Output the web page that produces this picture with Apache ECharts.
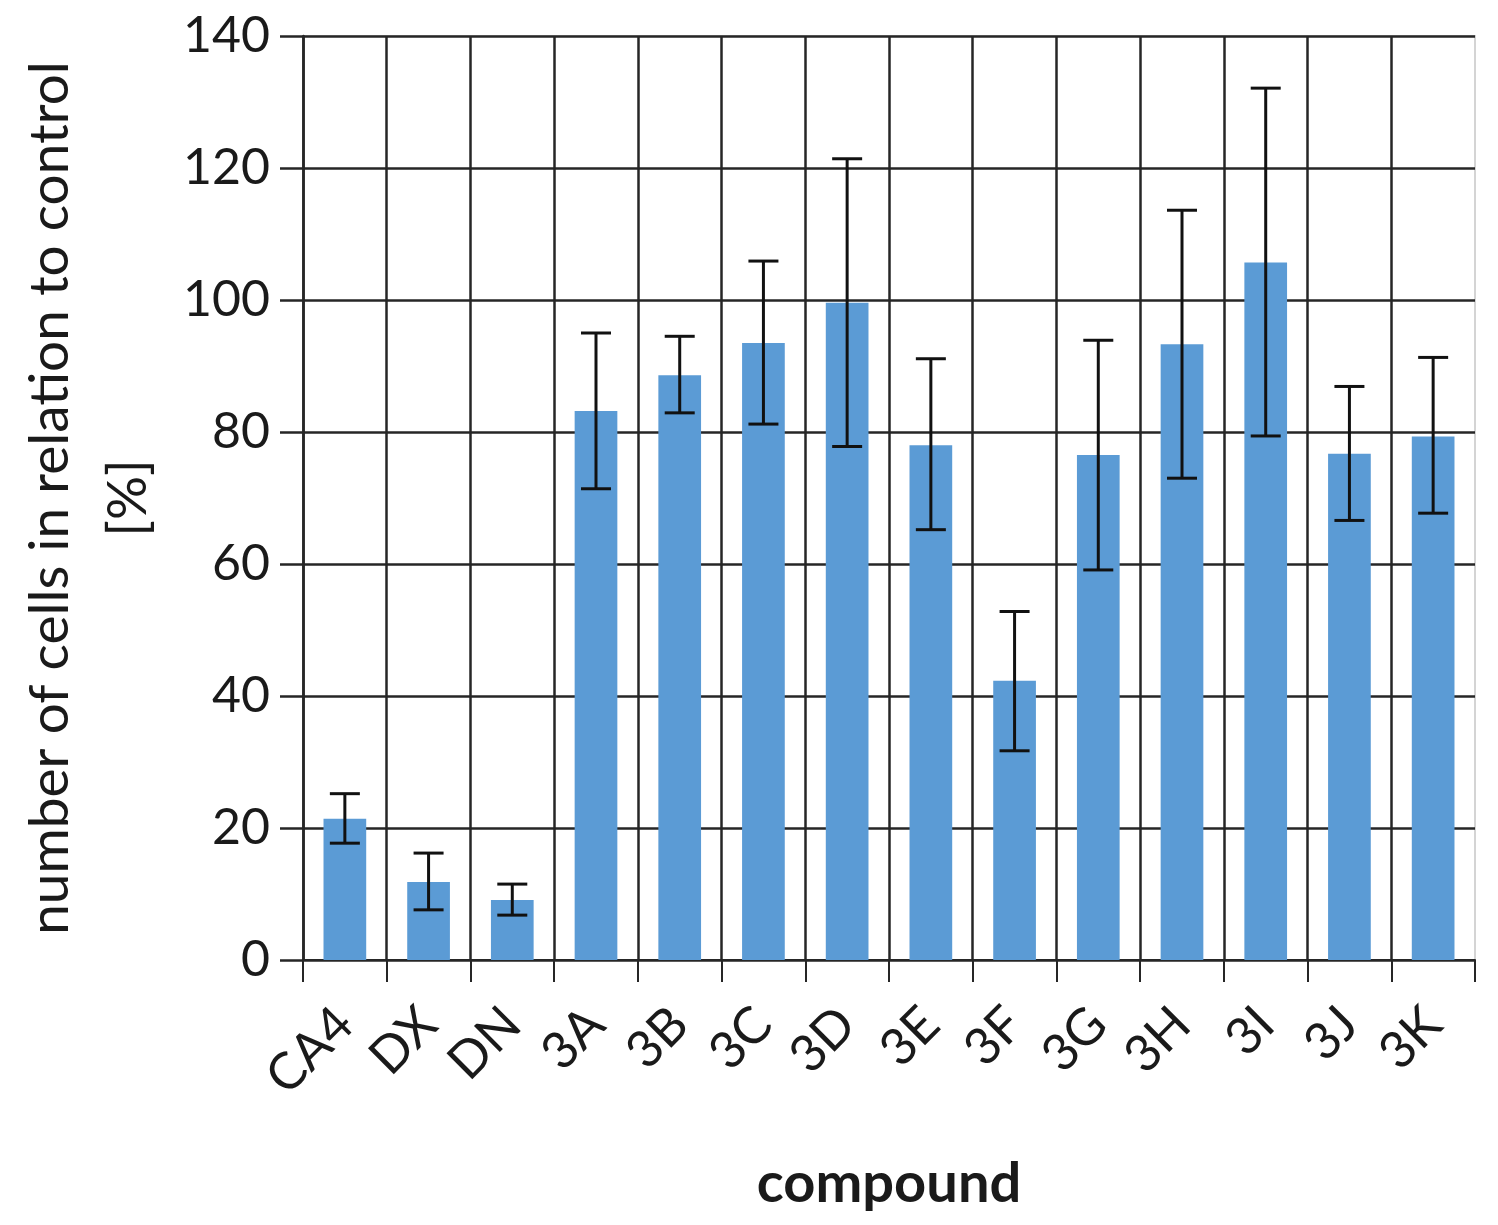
<!DOCTYPE html>
<html>
<head>
<meta charset="utf-8">
<script src="https://cdn.jsdelivr.net/npm/echarts@6/dist/echarts.min.js"></script>
<style>
	html, body { margin: 0; padding: 0; background: #fff; }
	#chart { width: 1498px; height: 1225px; }
</style>
</head>
<body>
<div id="chart"></div>
<script>
// categories and values
var compounds = ['CA4', 'DX', 'DN', '3A', '3B', '3C', '3D', '3E', '3F', '3G', '3H', '3I', '3J', '3K'];
var cellsPct = [21.4, 11.8, 9.1, 83.2, 88.6, 93.5, 99.6, 78.0, 42.3, 76.5, 93.3, 105.7, 76.7, 79.3];
var errUpper = [25.2, 16.2, 11.5, 95.0, 94.5, 105.9, 121.4, 91.1, 52.8, 93.9, 113.6, 132.1, 86.9, 91.3];
var errLower = [17.7, 7.6, 6.8, 71.4, 82.9, 81.2, 77.8, 65.2, 31.7, 59.1, 73.0, 79.4, 66.6, 67.7];
var yTicks = [0, 20, 40, 60, 80, 100, 120, 140];

var font = 'Lato, "Open Sans", sans-serif';
var gridColor = '#262626';
var textColor = '#1a1a1a';

var errData = [];
for (var i = 0; i < compounds.length; i++) {
	errData.push([i, errLower[i], errUpper[i]]);
}

// whisker with a cap at both ends
function renderErr(params, api) {
	var x = api.value(0);
	var lo = api.coord([x, api.value(1)]);
	var hi = api.coord([x, api.value(2)]);
	var half = 15;
	var style = { stroke: '#111', lineWidth: 3 };
	return {
		type: 'group',
		children: [
			{ type: 'line', shape: { x1: lo[0], y1: lo[1], x2: hi[0], y2: hi[1] }, style: style },
			{ type: 'line', shape: { x1: hi[0] - half, y1: hi[1], x2: hi[0] + half, y2: hi[1] }, style: style },
			{ type: 'line', shape: { x1: lo[0] - half, y1: lo[1], x2: lo[0] + half, y2: lo[1] }, style: style }
		]
	};
}

var chart = echarts.init(document.getElementById('chart'));
chart.setOption({
	animation: false,
	backgroundColor: '#fff',
	grid: {
		left: 303, right: 23, top: 36, bottom: 265,
		containLabel: false,
		outerBoundsMode: 'none',
		show: true,
		borderColor: '#d4d4d4',
		borderWidth: 2
	},
	xAxis: {
		type: 'category',
		data: compounds,
		name: 'compound',
		nameLocation: 'middle',
		nameGap: 196,
		nameTextStyle: { fontFamily: font, fontSize: 56, fontWeight: 'bold', color: textColor },
		axisLine: { lineStyle: { color: gridColor, width: 2 } },
		axisTick: { show: true, interval: 0, length: 22, lineStyle: { color: gridColor, width: 2 } },
		axisLabel: { interval: 0, rotate: 45, margin: 56, fontFamily: font, fontSize: 51, color: textColor },
		splitLine: { show: true, interval: 0, showMaxLine: false, lineStyle: { color: gridColor, width: 2.5 } }
	},
	yAxis: {
		type: 'value',
		min: 0,
		max: yTicks[yTicks.length - 1],
		interval: yTicks[1] - yTicks[0],
		name: 'number of cells in relation to control\n[%]',
		nameLocation: 'middle',
		nameGap: 136,
		nameTextStyle: { fontFamily: font, fontSize: 55, color: textColor, lineHeight: 78 },
		axisLine: { show: true, lineStyle: { color: gridColor, width: 2.5 } },
		axisTick: { show: true, length: 23, lineStyle: { color: gridColor, width: 2.5 } },
		axisLabel: { margin: 33, fontFamily: font, fontSize: 50, color: textColor },
		splitLine: { show: true, lineStyle: { color: gridColor, width: 2.5 } }
	},
	series: [
		{
			type: 'bar',
			data: cellsPct,
			barWidth: '51%',
			itemStyle: { color: '#5b9bd5' },
			z: 2
		},
		{
			type: 'custom',
			data: errData,
			renderItem: renderErr,
			encode: { x: 0, y: [1, 2] },
			z: 3
		}
	]
});
</script>
</body>
</html>
